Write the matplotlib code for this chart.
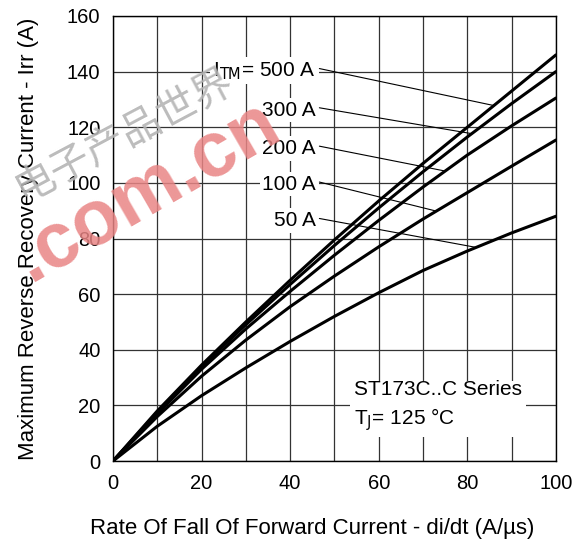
import numpy as np
import matplotlib
matplotlib.use("Agg")
import matplotlib.pyplot as plt

plt.rcParams['font.family'] = ['Liberation Sans', 'DejaVu Sans']

# di/dt (A/us) and peak reverse recovery current Irr (A) per I_TM curve
didt = [0, 10, 20, 30, 40, 50, 60, 70, 80, 90, 100]
irr_500 = [0, 18, 34.5, 50, 65, 79.5, 93.5, 107, 120, 133, 146]
irr_300 = [0, 17.5, 34, 49, 63.5, 77.5, 91, 104, 116.5, 128.5, 140]
irr_200 = [0, 17, 33, 47.5, 61, 74, 86.5, 98.5, 110, 120.5, 130.5]
irr_100 = [0, 16, 30.5, 43.5, 55.5, 66.5, 77, 87, 96.5, 106, 115.4]
irr_50 = [0, 12.5, 23.5, 33.5, 43, 52, 60.5, 68.5, 75.5, 82, 88]

curves = [irr_500, irr_300, irr_200, irr_100, irr_50]
labels = ['500 A', '300 A', '200 A', '100 A', '50 A']
label_y = [140.3, 126.2, 112.4, 99.5, 86.4]
leader_x = [86, 81, 75, 73, 82]

fig = plt.figure(figsize=(5.87, 5.42), dpi=100)
ax = fig.add_axes([0.1925, 0.1494, 0.7545, 0.8211])

ax.set_xlim(0, 100)
ax.set_ylim(0, 160)
ax.set_xticks(np.arange(0, 101, 20))
ax.set_xticks(np.arange(0, 101, 10), minor=True)
ax.set_yticks(np.arange(0, 161, 20))
ax.grid(which='both', color='#333333', linewidth=0.9)
ax.set_axisbelow(True)
ax.tick_params(which='both', length=0, labelsize=14.5, pad=9)
for s in ax.spines.values():
    s.set_linewidth(1.0)

# watermark
fig.text(0.212, 0.75, '电子产品世界', family=['Noto Sans CJK SC'], fontsize=29,
         color='#b5b5b5', rotation=28, ha='center', va='center', alpha=0.9)
fig.text(0.25, 0.648, '.com.cn', fontsize=56, fontweight='bold', color='#e98585',
         rotation=30, ha='center', va='center', alpha=0.85)

for y in curves:
    ax.plot(didt, y, color='black', linewidth=2.2, solid_capstyle='round',
            solid_joinstyle='round')

for i, (lab, ly, lx) in enumerate(zip(labels, label_y, leader_x)):
    text = r'I$_{\rm TM}$= ' + lab if i == 0 else lab
    ax.text(45.8, ly, text, ha='right', va='center', fontsize=15,
            bbox=dict(facecolor='white', edgecolor='none', pad=2))
    ax.annotate('', xy=(lx, np.interp(lx, didt, curves[i])), xytext=(46.6, ly + 0.8),
                arrowprops=dict(arrowstyle='-', color='black', linewidth=0.8,
                                shrinkA=0, shrinkB=0))

ax.text(54.4, 19.5, 'ST173C..C Series\n' + r'T$_{\rm J}$= 125 °C', fontsize=15,
        va='center', ha='left', linespacing=1.4,
        bbox=dict(facecolor='white', edgecolor='none', pad=3))

ax.set_xlabel('Rate Of Fall Of Forward Current - di/dt (A/µs)', fontsize=16)
ax.xaxis.set_label_coords(0.45, -0.127)
ax.set_ylabel('Maximum Reverse Recovery Current - Irr (A)', fontsize=16, labelpad=20)

fig.savefig('out.png', dpi=100)
